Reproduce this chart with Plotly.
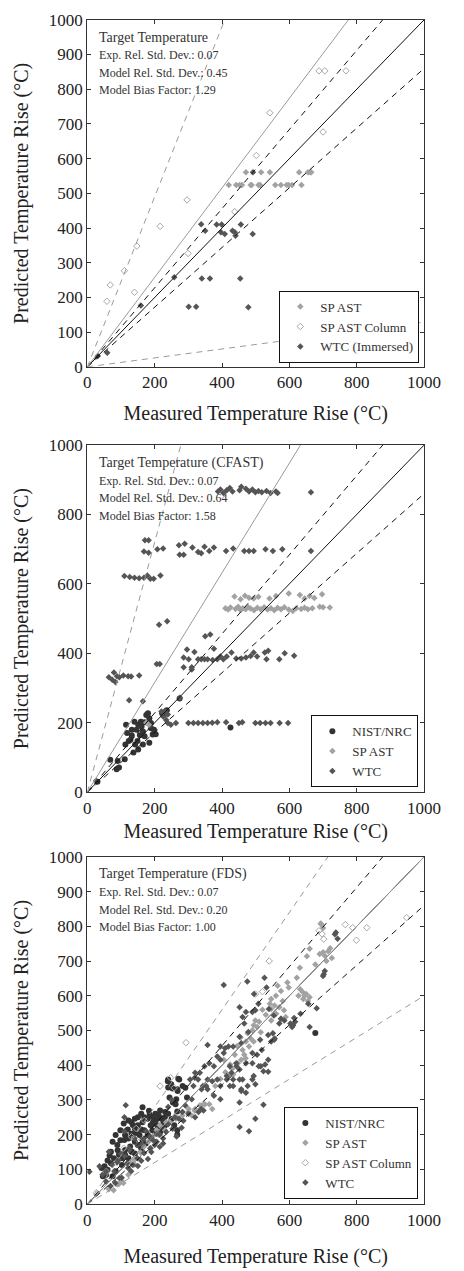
import plotly.graph_objects as go

# ---------------- statistics per panel ----------------
panel_titles = ["Target Temperature", "Target Temperature (CFAST)", "Target Temperature (FDS)"]
exp_rel_std = [0.07, 0.07, 0.07]
model_rel_std = [0.45, 0.64, 0.20]
model_bias = [1.29, 1.58, 1.00]

x_ticks = [0, 200, 400, 600, 800, 1000]
y_ticks_fine = [0, 100, 200, 300, 400, 500, 600, 700, 800, 900, 1000]
y_ticks_coarse = [0, 200, 400, 600, 800, 1000]

# ---------------- panel 1 data ----------------
p1_sp_ast = [(471, 561), (516, 561), (542, 561), (629, 561), (655, 561), (662, 561), (665, 561),
             (420, 524), (442, 524), (452, 524), (459, 524), (485, 524), (488, 524), (508, 524),
             (513, 524), (558, 524), (575, 524), (592, 524), (598, 524), (608, 524), (636, 524)]
p1_sp_ast_col = [(58, 189), (68, 236), (110, 277), (140, 215), (147, 348), (216, 405), (296, 481),
                 (299, 327), (438, 447), (502, 609), (542, 732), (688, 853), (705, 853), (768, 853),
                 (700, 677)]
p1_wtc = [(338, 411), (350, 392), (384, 410), (399, 410), (397, 388), (408, 383), (431, 392),
          (438, 388), (440, 378), (456, 410), (491, 383), (492, 561), (258, 258), (340, 255),
          (364, 255), (454, 255), (301, 173), (323, 173), (478, 172), (159, 177), (31, 31), (59, 41)]

# ---------------- panel 2 data ----------------
p2_nist = [(68, 93), (90, 90), (111, 95), (87, 66), (94, 71), (113, 137), (137, 114), (142, 137),
           (149, 147), (156, 164), (118, 170), (115, 194), (140, 203), (128, 151), (132, 180),
           (146, 180), (151, 194), (161, 189), (165, 175), (170, 161), (175, 222), (180, 227),
           (184, 213), (189, 184), (194, 166), (198, 180), (203, 167), (184, 142), (165, 137),
           (151, 123), (189, 199), (159, 203), (170, 201), (132, 163), (123, 147), (274, 270),
           (222, 227), (232, 232), (236, 236), (227, 222), (676, 139), (425, 186), (30, 30)]
p2_sp_ast = [(410, 530), (418, 526), (425, 532), (440, 528), (448, 534), (455, 525), (462, 530),
             (470, 527), (478, 533), (485, 529), (495, 524), (505, 531), (515, 527), (525, 533),
             (535, 526), (545, 530), (555, 524), (565, 531), (575, 527), (585, 533), (598, 526),
             (610, 522), (620, 530), (635, 528), (645, 531), (655, 527), (668, 530), (690, 534),
             (700, 533), (720, 532), (437, 564), (455, 556), (468, 566), (480, 560), (494, 558),
             (508, 563), (541, 558), (560, 565), (598, 572), (631, 568), (645, 558), (660, 565),
             (674, 559), (697, 570), (175, 200), (185, 192)]
p2_wtc = [(388, 866), (395, 872), (404, 862), (414, 870), (423, 876), (431, 866), (452, 870),
          (457, 880), (471, 874), (480, 866), (490, 872), (499, 864), (508, 868), (518, 864),
          (532, 868), (544, 862), (560, 866), (565, 862), (664, 864),
          (168, 693), (182, 690), (208, 700), (225, 702), (272, 711), (289, 716), (274, 684),
          (286, 684), (312, 705), (329, 692), (338, 688), (348, 707), (362, 695), (376, 705),
          (412, 695), (433, 702), (466, 695), (480, 695), (494, 695), (529, 700), (551, 695),
          (579, 700), (664, 695), (171, 726), (182, 726),
          (110, 623), (126, 620), (140, 618), (154, 616), (168, 618), (178, 624), (187, 615),
          (197, 615), (217, 624), (213, 482), (237, 492), (350, 449), (365, 454),
          (286, 388), (296, 411), (301, 383), (310, 360), (318, 404), (329, 383), (338, 383),
          (348, 383), (357, 383), (372, 381), (376, 413), (386, 383), (395, 391), (404, 383),
          (414, 391), (428, 402), (442, 385), (457, 385), (471, 388), (485, 392), (494, 402),
          (504, 391), (527, 402), (532, 383), (537, 407), (570, 383), (586, 400), (614, 393),
          (286, 360), (310, 353),
          (64, 331), (79, 345), (83, 317), (95, 331), (107, 336), (121, 334), (130, 333),
          (154, 336), (88, 334), (74, 324), (206, 369), (215, 369), (124, 265), (165, 262),
          (239, 199), (248, 194), (263, 199), (300, 199), (315, 199), (329, 199), (343, 199),
          (357, 199), (371, 200), (386, 201), (412, 201), (450, 199), (460, 201), (499, 199),
          (513, 199), (529, 199), (544, 199), (571, 199), (596, 199), (681, 199),
          (220, 232), (230, 234), (239, 224), (225, 218), (234, 208), (275, 272), (26, 33)]

# ---------------- panel 3 data ----------------
p3_nist = [(42, 104), (51, 109), (60, 99), (70, 118), (79, 132), (94, 142), (103, 132), (112, 156),
           (89, 170), (98, 184), (112, 199), (122, 189), (131, 203), (141, 217), (150, 227),
           (164, 236), (179, 246), (193, 251), (202, 260), (212, 255), (221, 246), (231, 265),
           (216, 270), (188, 227), (169, 213), (155, 199), (141, 180), (127, 166), (112, 142),
           (131, 151), (150, 170), (164, 184), (179, 199), (193, 213), (207, 227), (226, 236),
           (240, 260), (164, 279), (240, 336), (249, 345), (273, 359), (268, 326), (240, 359),
           (283, 340), (254, 293), (264, 302), (202, 241), (216, 217), (56, 85), (46, 80),
           (75, 80), (84, 95), (103, 113), (122, 132), (141, 146), (160, 161), (174, 175),
           (188, 189), (202, 203), (216, 208), (231, 227), (160, 260), (169, 250), (183, 269),
           (150, 250), (141, 246), (131, 236), (122, 241), (108, 232), (98, 213), (84, 199),
           (75, 180), (70, 151), (239, 354), (270, 361), (253, 333), (244, 307), (267, 331),
           (291, 335), (296, 307), (262, 288), (267, 267), (258, 227), (267, 213), (267, 200),
           (677, 493), (60, 126), (66, 140), (90, 155), (120, 215), (135, 228), (195, 236),
           (208, 246), (222, 222), (110, 185), (145, 205), (160, 215), (185, 258), (196, 233),
           (230, 250), (250, 245)]
p3_sp_ast = [(660, 735), (652, 714), (631, 681), (677, 690), (715, 728), (726, 709), (721, 737),
             (641, 591), (650, 605), (660, 596), (627, 600), (622, 652), (594, 638), (598, 624),
             (565, 629), (575, 614), (546, 591), (542, 577), (556, 572), (546, 562), (561, 548),
             (570, 567), (584, 558), (589, 539), (575, 534), (546, 529), (499, 529), (494, 515),
             (504, 510), (490, 501), (476, 492), (485, 477), (494, 468), (471, 468), (480, 454),
             (461, 444), (466, 430), (457, 416), (438, 430), (447, 406), (424, 402), (433, 373),
             (419, 369), (405, 416), (690, 720), (700, 725), (705, 715), (695, 805), (700, 795),
             (710, 700), (640, 610), (645, 600), (632, 619), (655, 585), (580, 585), (560, 600),
             (520, 560), (530, 545), (510, 525), (515, 495), (455, 480), (445, 455), (470, 420),
             (430, 390), (410, 380), (395, 360), (380, 340), (693, 808),
             (300, 265), (319, 269), (338, 284), (348, 288), (362, 288), (371, 274), (282, 255),
             (310, 255), (263, 246), (234, 236), (215, 227), (206, 213), (197, 198), (182, 180),
             (168, 165), (159, 147), (140, 128), (130, 118), (64, 43), (78, 40), (93, 57),
             (107, 61), (89, 57), (103, 66), (122, 85), (141, 114), (169, 147), (188, 161),
             (202, 180), (212, 199), (231, 213), (245, 236), (264, 251), (283, 265), (301, 274),
             (320, 274), (334, 284), (349, 288)]
p3_sp_ast_col = [(27, 33), (56, 95), (89, 123), (108, 161), (131, 194), (145, 218), (155, 180),
                 (169, 241), (216, 340), (247, 364), (258, 335), (293, 465), (520, 612), (499, 605),
                 (540, 700), (688, 787), (702, 763), (697, 778), (766, 805), (788, 796), (799, 760),
                 (830, 796), (948, 825)]
p3_wtc = [(6, 93), (64, 151), (110, 210), (114, 285), (110, 250), (405, 631), (452, 567), (475, 641),
          (526, 652), (532, 624), (508, 577), (499, 558), (539, 562), (554, 543), (555, 473),
          (551, 492), (575, 534), (585, 529), (603, 520), (608, 510), (614, 536), (633, 548),
          (656, 577), (681, 564), (700, 657), (705, 671), (738, 782), (743, 764), (735, 777),
          (660, 510), (452, 222), (480, 210), (499, 246), (523, 286), (537, 381), (523, 383),
          (515, 397), (494, 369), (499, 345), (471, 321), (452, 293), (452, 359), (457, 326),
          (423, 340), (414, 369), (423, 397), (442, 406), (433, 454), (419, 454), (405, 435),
          (395, 416), (376, 397), (362, 406), (348, 397), (334, 378), (319, 364), (305, 359),
          (315, 340), (343, 340), (357, 331), (371, 354), (386, 359), (395, 340), (376, 312),
          (395, 302), (338, 274), (310, 302), (291, 284), (282, 265), (272, 246), (253, 217),
          (234, 208), (225, 189), (206, 180), (187, 161), (168, 147), (149, 132), (135, 113),
          (121, 104), (102, 76), (83, 61), (69, 52), (55, 66), (45, 85), (55, 95), (36, 109),
          (74, 113), (93, 128), (112, 137), (130, 151), (149, 170), (168, 189), (187, 194),
          (206, 203), (357, 458), (495, 605), (490, 553), (537, 487), (570, 520), (611, 515),
          (617, 525), (702, 662), (471, 553), (461, 539), (466, 520), (478, 496), (452, 482),
          (457, 463), (513, 473), (546, 468), (556, 477), (490, 435), (504, 430), (518, 444),
          (537, 416), (528, 402), (509, 397), (490, 406), (471, 406), (452, 388), (443, 397),
          (428, 378), (433, 359), (461, 359), (490, 359), (476, 340), (457, 331), (433, 340),
          (414, 359), (409, 449), (395, 454), (386, 425), (357, 359), (353, 340), (339, 331),
          (329, 359), (320, 378), (88, 120), (100, 145), (125, 160), (140, 190), (160, 175),
          (175, 210), (195, 185), (215, 200), (240, 230), (260, 250), (285, 240), (300, 260),
          (320, 250), (330, 265), (345, 270), (240, 280), (250, 300), (215, 165), (190, 150),
          (150, 110), (130, 95), (95, 75), (80, 95), (118, 118), (265, 195), (280, 220),
          (200, 170), (180, 130), (160, 125), (225, 175)]

# ---------------- styles ----------------
FONT = "Liberation Serif"
C_WTC = "#555555"
C_SPAST = "#a2a2a2"
C_COL = "#a8a8a8"
C_NIST = "#333333"
C_GRAYLINE = "#9a9a9a"

panels = [
    [("SP AST", p1_sp_ast, "diamond", C_SPAST),
     ("SP AST Column", p1_sp_ast_col, "diamond-open", C_COL),
     ("WTC (Immersed)", p1_wtc, "diamond", C_WTC)],
    [("NIST/NRC", p2_nist, "circle", C_NIST),
     ("SP AST", p2_sp_ast, "diamond", C_SPAST),
     ("WTC", p2_wtc, "diamond", C_WTC)],
    [("NIST/NRC", p3_nist, "circle", C_NIST),
     ("SP AST", p3_sp_ast, "diamond", C_SPAST),
     ("SP AST Column", p3_sp_ast_col, "diamond-open", C_COL),
     ("WTC", p3_wtc, "diamond", C_WTC)],
]

W, H = 464, 1271
plot_left, plot_right = 87.3, 440.0
panel_tops = [11.0, 442.7, 860.7]
panel_bottoms = [363.3, 795.0, 1213.3]
legend_rights = [435, 434, 434]
legend_bottoms = [359, 790, 1208]
xtitle_standoff = [14, 7, 20]

fig = go.Figure()
line_x = [0, 1000]

for i, series in enumerate(panels):
    xa = "x" if i == 0 else f"x{i+1}"
    ya = "y" if i == 0 else f"y{i+1}"
    leg = "legend" if i == 0 else f"legend{i+1}"
    for name, pts, sym, col in series:
        xs = [p[0] for p in pts]
        ys = [p[1] for p in pts]
        open_sym = sym.endswith("open")
        fig.add_trace(go.Scatter(
            x=xs, y=ys, mode="markers", name=name, xaxis=xa, yaxis=ya, legend=leg,
            marker=dict(symbol=sym, size=5 if sym != "circle" else 6, color=col,
                        line=dict(width=1 if open_sym else 0, color=col)),
        ))
    se, sm, b = exp_rel_std[i], model_rel_std[i], model_bias[i]
    lines = [
        (1.0, "#111111", "solid"),
        (1 + 2 * se, "#111111", "6px,5px"),
        (1 - 2 * se, "#111111", "6px,5px"),
        (b, C_GRAYLINE, "solid"),
        (b * (1 + 2 * sm), C_GRAYLINE, "6px,5px"),
        (b * (1 - 2 * sm), C_GRAYLINE, "6px,5px"),
    ]
    for slope, col, dash in lines:
        fig.add_trace(go.Scatter(
            x=line_x, y=[slope * v for v in line_x], mode="lines", xaxis=xa, yaxis=ya,
            line=dict(color=col, width=1, dash=dash), showlegend=False, hoverinfo="skip",
        ))

    ydom = [1 - panel_bottoms[i] / H, 1 - panel_tops[i] / H]
    axis_common = dict(range=[0, 1000], showline=True, linecolor="#333333", linewidth=1.3,
                       mirror="ticks", ticks="inside", ticklen=4, tickcolor="#333333",
                       showgrid=False, zeroline=False,
                       tickfont=dict(family=FONT, size=17, color="#222222"))
    xkey = "xaxis" if i == 0 else f"xaxis{i+1}"
    ykey = "yaxis" if i == 0 else f"yaxis{i+1}"
    fig.update_layout(**{
        xkey: dict(axis_common, domain=[plot_left / W, plot_right / W], anchor=ya,
                   tickvals=x_ticks,
                   title=dict(text="Measured Temperature Rise (°C)", standoff=xtitle_standoff[i],
                              font=dict(family=FONT, size=20, color="#222222"))),
        ykey: dict(axis_common, domain=ydom, anchor=xa,
                   tickvals=y_ticks_coarse if i == 1 else y_ticks_fine,
                   title=dict(text="Predicted Temperature Rise (°C)", standoff=14,
                              font=dict(family=FONT, size=20, color="#222222"))),
        leg: dict(x=legend_rights[i] / W, y=1 - legend_bottoms[i] / H, xanchor="right",
                  yanchor="bottom", bgcolor="white", bordercolor="#111111", borderwidth=1,
                  font=dict(family=FONT, size=13, color="#333333"), tracegroupgap=0,
                  itemwidth=30),
    })

    texts = [panel_titles[i],
             f"Exp. Rel. Std. Dev.: {se:.2f}",
             f"Model Rel. Std. Dev.: {sm:.2f}",
             f"Model Bias Factor: {b:.2f}"]
    offsets = [-17.5, -35.5, -53, -70.5]
    for k, t in enumerate(texts):
        fig.add_annotation(
            text=t, xref=f"{xa} domain", yref=f"{ya} domain", x=0, y=1,
            xshift=10, yshift=offsets[k], xanchor="left", yanchor="middle", showarrow=False,
            font=dict(family=FONT, size=14 if k == 0 else 12, color="#333333"),
        )

fig.update_layout(width=W, height=H, margin=dict(l=0, r=0, t=0, b=0),
                  paper_bgcolor="white", plot_bgcolor="white", showlegend=True)

fig.write_html("out.html")
